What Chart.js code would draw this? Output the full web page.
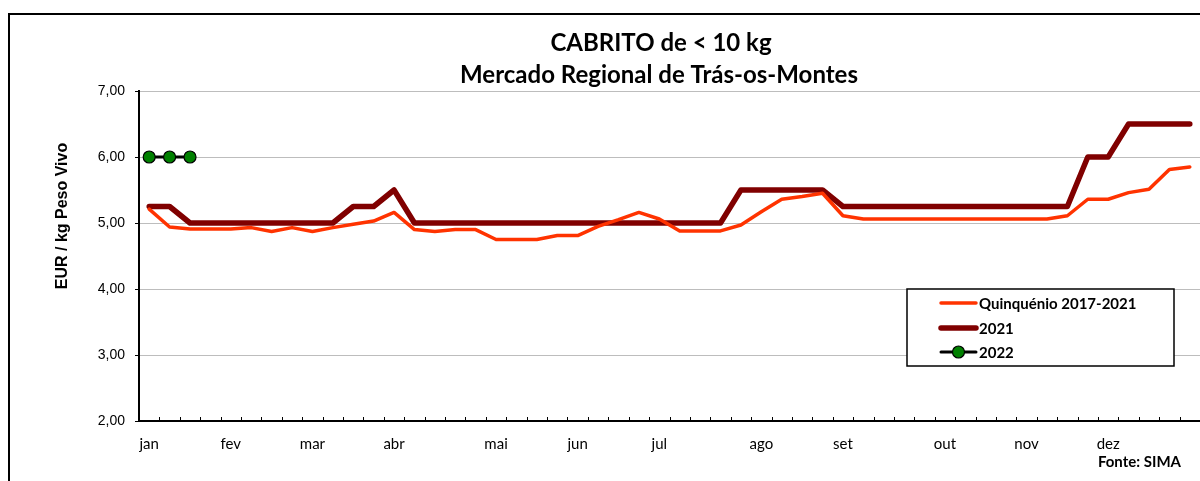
<!DOCTYPE html>
<html>
<head>
<meta charset="utf-8">
<script src="https://cdn.jsdelivr.net/npm/chart.js@4.4.1/dist/chart.umd.min.js"></script>
<style>
    html, body { margin: 0; padding: 0; background: #fff; }
    #wrap { width: 1200px; height: 481px; position: relative; }
</style>
</head>
<body>
<div id="wrap"><canvas id="chart" width="1200" height="481"></canvas></div>
<script>
// weekly labels, month name on the first week of each month
const monthNames = ['jan', 'fev', 'mar', 'abr', 'mai', 'jun', 'jul', 'ago', 'set', 'out', 'nov', 'dez'];
const monthWeeks = [0, 4, 8, 12, 17, 21, 25, 30, 34, 39, 43, 47];

const quinquenio = [
    5.21, 4.94, 4.91, 4.91, 4.91, 4.93, 4.87, 4.93, 4.87, 4.93,
    4.98, 5.03, 5.16, 4.90, 4.87, 4.90, 4.90, 4.75, 4.75, 4.75,
    4.81, 4.81, 4.95, 5.05, 5.16, 5.06, 4.88, 4.88, 4.88, 4.97,
    5.17, 5.36, 5.40, 5.45, 5.11, 5.06, 5.06, 5.06, 5.06, 5.06,
    5.06, 5.06, 5.06, 5.06, 5.06, 5.11, 5.36, 5.36, 5.46, 5.51,
    5.81, 5.85
];
const year2021 = [
    5.25, 5.25, 5.00, 5.00, 5.00, 5.00, 5.00, 5.00, 5.00, 5.00,
    5.25, 5.25, 5.50, 5.00, 5.00, 5.00, 5.00, 5.00, 5.00, 5.00,
    5.00, 5.00, 5.00, 5.00, 5.00, 5.00, 5.00, 5.00, 5.00, 5.50,
    5.50, 5.50, 5.50, 5.50, 5.25, 5.25, 5.25, 5.25, 5.25, 5.25,
    5.25, 5.25, 5.25, 5.25, 5.25, 5.25, 6.00, 6.00, 6.50, 6.50,
    6.50, 6.50
];
const year2022 = [6.00, 6.00, 6.00];

const yTicks = [2, 3, 4, 5, 6, 7];

const weekLabels = [];
for (let i = 0; i < quinquenio.length; i++) {
    const m = monthWeeks.indexOf(i);
    weekLabels.push(m >= 0 ? monthNames[m] : '');
}

// titles, legend box, source note, frame and inside tick marks
const decorPlugin = {
    id: 'decor',
    afterDraw(chart) {
        const ctx = chart.ctx;
        const area = chart.chartArea;
        const xs = chart.scales.x;
        ctx.save();

        // outer frame
        ctx.strokeStyle = '#000';
        ctx.lineWidth = 2;
        ctx.beginPath();
        ctx.moveTo(9, 481);
        ctx.lineTo(9, 14);
        ctx.lineTo(1200, 14);
        ctx.stroke();

        // x tick marks pointing up into the plot
        const step = xs.getPixelForValue(1) - xs.getPixelForValue(0);
        ctx.lineWidth = 1;
        ctx.beginPath();
        for (let i = 0; i <= weekLabels.length; i++) {
            const x = Math.round(xs.getPixelForValue(0) + (i - 0.5) * step) + 0.5;
            ctx.moveTo(x, area.bottom);
            ctx.lineTo(x, area.bottom - 4);
        }
        ctx.stroke();

        // title
        ctx.fillStyle = '#000';
        ctx.textAlign = 'center';
        ctx.textBaseline = 'middle';
        ctx.font = 'bold 24px Lato';
        ctx.fillText('CABRITO de < 10 kg', 661, 43);
        ctx.fillText('Mercado Regional de Trás-os-Montes', 659, 75);

        // y axis title
        ctx.save();
        ctx.translate(63, 216);
        ctx.rotate(-Math.PI / 2);
        ctx.font = 'bold 16px "Liberation Sans"';
        ctx.fillText('EUR / kg Peso Vivo', 0, 0);
        ctx.restore();

        // source
        ctx.textAlign = 'right';
        ctx.font = 'bold 15px Lato';
        ctx.fillText('Fonte: SIMA', 1181, 462);

        // legend
        ctx.fillStyle = '#fff';
        ctx.fillRect(907, 289, 267, 77);
        ctx.strokeStyle = '#000';
        ctx.lineWidth = 1.5;
        ctx.strokeRect(907, 289, 267, 77);
        const rows = [303, 328, 352];
        chart.data.datasets.forEach((ds, i) => {
            const y = rows[i];
            ctx.strokeStyle = ds.borderColor;
            ctx.lineWidth = ds.borderWidth;
            ctx.lineCap = 'round';
            ctx.beginPath();
            ctx.moveTo(941, y);
            ctx.lineTo(976, y);
            ctx.stroke();
            if (ds.pointRadius > 0) {
                ctx.beginPath();
                ctx.arc(958.5, y, ds.pointRadius, 0, Math.PI * 2);
                ctx.fillStyle = ds.pointBackgroundColor;
                ctx.fill();
                ctx.lineWidth = ds.pointBorderWidth;
                ctx.strokeStyle = ds.pointBorderColor;
                ctx.stroke();
            }
            ctx.fillStyle = '#000';
            ctx.textAlign = 'left';
            ctx.font = 'bold 15px Lato';
            ctx.fillText(ds.label, 979, y + 1);
        });

        ctx.restore();
    }
};

new Chart(document.getElementById('chart'), {
    type: 'line',
    data: {
        labels: weekLabels,
        datasets: [
            {
                label: 'Quinquénio 2017-2021',
                data: quinquenio,
                borderColor: '#ff3300',
                borderWidth: 3.5,
                pointRadius: 0,
                tension: 0,
                borderJoinStyle: 'round',
                borderCapStyle: 'round',
                order: 1
            },
            {
                label: '2021',
                data: year2021,
                borderColor: '#800000',
                borderWidth: 5.5,
                pointRadius: 0,
                tension: 0,
                borderJoinStyle: 'round',
                borderCapStyle: 'round',
                order: 2
            },
            {
                label: '2022',
                data: year2022,
                borderColor: '#000000',
                borderWidth: 3,
                pointRadius: 6,
                pointBackgroundColor: '#008000',
                pointBorderColor: '#000000',
                pointBorderWidth: 1.2,
                tension: 0,
                order: 0
            }
        ]
    },
    options: {
        responsive: false,
        animation: false,
        layout: { autoPadding: false, padding: { top: 91, right: 0, left: 0, bottom: 0 } },
        plugins: {
            legend: { display: false },
            title: { display: false },
            tooltip: { enabled: false }
        },
        scales: {
            x: {
                type: 'category',
                offset: true,
                afterFit(scale) {
                    scale.height = 60;
                    scale.paddingLeft = 0;
                    scale.paddingRight = 0;
                },
                grid: { display: false, drawTicks: false },
                border: { display: true, color: '#000', width: 2 },
                ticks: {
                    autoSkip: false,
                    maxRotation: 0,
                    padding: 14,
                    color: '#000',
                    font: { family: 'Lato', size: 15 }
                }
            },
            y: {
                min: 2,
                max: 7,
                afterFit(scale) { scale.width = 139; },
                afterBuildTicks(scale) { scale.ticks = yTicks.map(v => ({ value: v })); },
                grid: {
                    color: '#bdbdbd',
                    borderDash: [1, 1],
                    tickColor: '#000',
                    tickLength: 4,
                    tickBorderDash: []
                },
                border: { display: true, color: '#000', width: 2 },
                ticks: {
                    padding: 10,
                    color: '#000',
                    font: { family: '"Liberation Sans"', size: 14 },
                    callback: (v) => v.toFixed(2).replace('.', ',')
                }
            }
        }
    },
    plugins: [decorPlugin]
});
</script>
</body>
</html>
